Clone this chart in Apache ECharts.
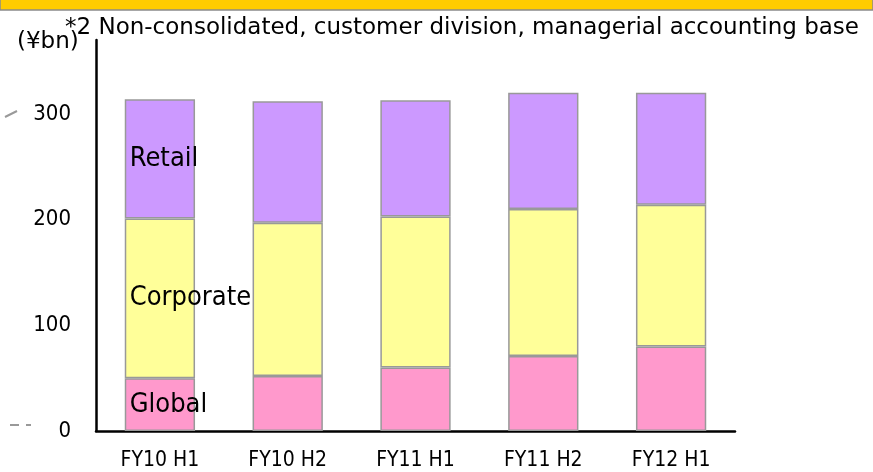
<!DOCTYPE html>
<html>
<head>
<meta charset="utf-8">
<script src="https://cdn.jsdelivr.net/npm/echarts@6/dist/echarts.min.js"></script>
<style>
  html, body { margin: 0; padding: 0; background: #fff; }
  #chart { width: 873px; height: 472px; }
</style>
</head>
<body>
<div id="chart"></div>
<script>
// periods on the x axis
const periods = ['FY10 H1', 'FY10 H2', 'FY11 H1', 'FY11 H2', 'FY12 H1']
// ¥bn (bottom to top)
const globalVals = [50, 52, 60, 71, 80]
const corporateVals = [151, 145, 143, 139, 134]
const retailVals = [113, 115, 110, 110, 106]
const yTicks = [0, 100, 200, 300]

const chart = echarts.init(document.getElementById('chart'), null, { renderer: 'canvas' })

const labelFont = 'DejaVu Sans Condensed, DejaVu Sans, sans-serif'

function stackSeries(name, values, color) {
  return {
    name: name,
    type: 'bar',
    stack: 'total',
    barWidth: '55%',
    itemStyle: { color: color, borderColor: '#999', borderWidth: 1.5 },
    // only the first bar carries the segment name
    data: values.map((v, i) => i === 0 ? {
      value: v,
      label: {
        show: true,
        position: 'insideLeft',
        distance: 5,
        formatter: name,
        color: '#000',
        fontFamily: labelFont,
        fontSize: 27
      }
    } : v)
  }
}

chart.setOption({
  animation: false,
  backgroundColor: '#fff',
  graphic: [
    // cut-off slide header band
    { type: 'rect', shape: { x: 0, y: -2, width: 873, height: 12 },
      style: { fill: '#FFCC00', stroke: '#8a8a8a', lineWidth: 1.5 } },
    { type: 'text', left: 65, top: 17,
      style: { text: '*2 Non-consolidated, customer division, managerial accounting base',
        font: '23px "DejaVu Sans", sans-serif', fill: '#000' } },
    { type: 'text', left: 17, top: 31,
      style: { text: '(¥bn)', font: '23px "DejaVu Sans", sans-serif', fill: '#000' } },
    // stray marks left over from the slide
    { type: 'line', shape: { x1: 5, y1: 117, x2: 17, y2: 111 }, style: { stroke: '#999', lineWidth: 2 } },
    { type: 'line', shape: { x1: 10, y1: 425, x2: 31, y2: 425 }, style: { stroke: '#999', lineWidth: 2, lineDash: [9, 7] } }
  ],
  grid: { left: 96, right: 138, top: 40, bottom: 41 },
  xAxis: {
    type: 'category',
    data: periods,
    axisLine: { lineStyle: { color: '#000', width: 2.5 } },
    axisTick: { show: false },
    axisLabel: {
      color: '#000',
      fontFamily: labelFont,
      fontSize: 21,
      margin: 19
    }
  },
  yAxis: {
    type: 'value',
    min: 0,
    max: 370,
    interval: 100,
    axisLine: { show: true, lineStyle: { color: '#000', width: 2.5 } },
    axisTick: { show: false },
    splitLine: { show: false },
    axisLabel: {
      color: '#000',
      fontFamily: labelFont,
      fontSize: 22,
      margin: 25,
      showMaxLabel: false,
      formatter: v => yTicks.includes(v) ? String(v) : ''
    }
  },
  series: [
    stackSeries('Global', globalVals, '#FF99CC'),
    stackSeries('Corporate', corporateVals, '#FFFF99'),
    stackSeries('Retail', retailVals, '#CC99FF')
  ]
})
</script>
</body>
</html>
